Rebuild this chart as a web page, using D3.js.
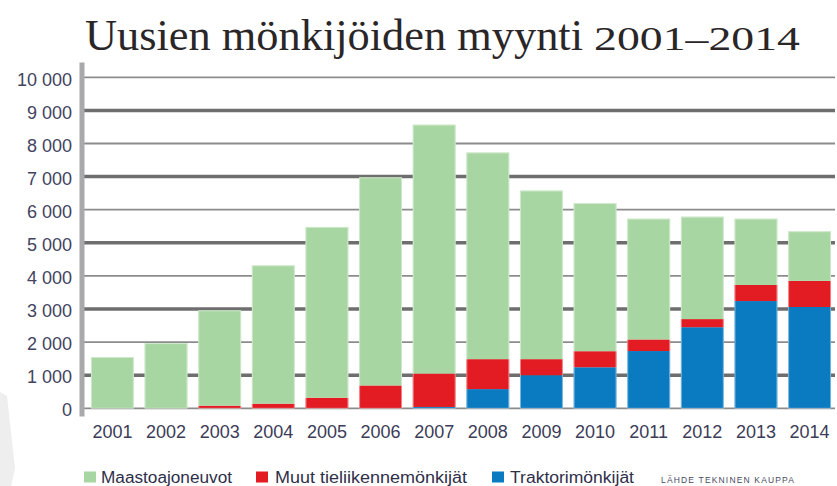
<!DOCTYPE html>
<html>
<head>
<meta charset="utf-8">
<script src="https://cdn.jsdelivr.net/npm/d3@7"></script>
<style>
  html, body { margin: 0; padding: 0; background: #fff; }
  svg { display: block; }
</style>
</head>
<body>
<svg id="chart" width="837" height="486"></svg>
<script>
const years = ["2001","2002","2003","2004","2005","2006","2007","2008","2009","2010","2011","2012","2013","2014"];
const traktori = [0,0,0,0,0,0,40,580,1000,1240,1730,2450,3240,3060];
const muut     = [0,0,80,140,320,690,1010,905,485,485,350,245,485,790];
const maasto   = [1550,1970,2880,4180,5160,6290,7520,6245,5095,4475,3650,3095,2005,1500];
const seriesNames = ["Traktorimönkijät","Muut tieliikennemönkijät","Maastoajoneuvot"];
const yTicks = [0,1000,2000,3000,4000,5000,6000,7000,8000,9000,10000];
const titleText = "Uusien mönkijöiden myynti";
const titleYears = "2001–2014";
const source = "LÄHDE TEKNINEN KAUPPA";

const colors = {"Maastoajoneuvot":"#a8d6a2","Muut tieliikennemönkijät":"#e31b23","Traktorimönkijät":"#0a7bc1"};

const svg = d3.select("#chart");

// page artifact on left
svg.append("path").attr("d","M0,392 L7,396 L15,468 L11,486 L0,486 Z").attr("fill","#eeeeee");

const rows = years.map((y,i)=>({year:y,"Traktorimönkijät":traktori[i],"Muut tieliikennemönkijät":muut[i],"Maastoajoneuvot":maasto[i]}));
const stack = d3.stack().keys(seriesNames)(rows);

const x = d3.scaleBand().domain(years).range([85.6,836.4]).paddingInner(0.2).paddingOuter(0.1);
const y = d3.scaleLinear().domain([0,10000]).range([408.3,77.3]);

// title
svg.append("text").attr("x",85).attr("y",50)
  .attr("font-family","'Liberation Serif','DejaVu Serif',serif")
  .attr("font-size",45).attr("fill","#2a2628")
  .attr("textLength",498).attr("lengthAdjust","spacingAndGlyphs")
  .text(titleText);
svg.append("text").attr("transform","translate(594,50) scale(1,0.74)")
  .attr("font-family","'Liberation Serif','DejaVu Serif',serif")
  .attr("font-size",45).attr("fill","#2a2628")
  .attr("textLength",206).attr("lengthAdjust","spacingAndGlyphs")
  .text(titleYears);

// gridlines
svg.append("g").selectAll("line").data(yTicks).join("line")
  .attr("x1",84).attr("x2",835)
  .attr("y1",d=>y(d)).attr("y2",d=>y(d))
  .attr("stroke",d=>(d/1000)%2===1?"#6e6e6e":"#8c8c8c")
  .attr("stroke-width",d=>(d/1000)%2===1?3.5:1.8);

// y axis bar
svg.append("rect").attr("x",79.5).attr("y",62.5).attr("width",5).attr("height",354).attr("fill","#a9a9ab");

// y labels
const fmt = d3.formatLocale({decimal:",",thousands:" ",grouping:[3],currency:["","€"]}).format(",");
svg.append("g").selectAll("text").data(yTicks).join("text")
  .attr("x",72).attr("y",d=>y(d)+ (1 - d/10000)*(-1) + 2)
  .attr("dy","0.35em").attr("text-anchor","end")
  .attr("font-family","'Liberation Sans',Arial,sans-serif").attr("font-size",18)
  .attr("fill","#43435f")
  .text(d=>fmt(d));

// bars
svg.append("g").selectAll("g").data(stack).join("g")
  .attr("fill",d=>colors[d.key])
  .selectAll("rect").data(d=>d).join("rect")
  .attr("x",d=>x(d.data.year))
  .attr("width",x.bandwidth())
  .attr("y",d=>y(d[1]))
  .attr("height",d=>Math.max(0,y(d[0])-y(d[1])));

// thin light outline on the total bars
svg.append("g").selectAll("rect").data(rows).join("rect")
  .attr("x",d=>x(d.year)+0.5).attr("width",x.bandwidth()-1)
  .attr("y",d=>y(d["Traktorimönkijät"]+d["Muut tieliikennemönkijät"]+d["Maastoajoneuvot"])+0.5)
  .attr("height",d=>y(0)-y(d["Traktorimönkijät"]+d["Muut tieliikennemönkijät"]+d["Maastoajoneuvot"])-0.5)
  .attr("fill","none").attr("stroke","rgba(255,255,255,0.45)").attr("stroke-width",1);

// x axis
const xAxis = svg.append("g").attr("transform","translate(0,420)")
  .call(d3.axisBottom(x).tickSize(0).tickPadding(0));
xAxis.select(".domain").remove();
xAxis.selectAll("text").attr("dy","0").attr("y",17.5)
  .attr("font-family","'Liberation Sans',Arial,sans-serif").attr("font-size",18)
  .attr("fill","#3c3c58");

// legend
const legendItems = [
  {name:"Maastoajoneuvot", sx:84, tx:101, tw:131},
  {name:"Muut tieliikennemönkijät", sx:256, tx:275, tw:192},
  {name:"Traktorimönkijät", sx:492, tx:510, tw:124}
];
const lg = svg.append("g");
legendItems.forEach(it=>{
  lg.append("rect").attr("x",it.sx).attr("y",471.5).attr("width",12).attr("height",11).attr("fill",colors[it.name]);
  lg.append("text").attr("x",it.tx).attr("y",482.5)
    .attr("font-family","'Liberation Sans',Arial,sans-serif").attr("font-size",16)
    .attr("fill","#2f2f4a")
    .attr("textLength",it.tw).attr("lengthAdjust","spacingAndGlyphs")
    .text(it.name);
});
lg.append("text").attr("x",661).attr("y",482.5)
  .attr("font-family","'Liberation Sans',Arial,sans-serif").attr("font-size",8.5)
  .attr("fill","#4a4a62")
  .attr("textLength",133).attr("lengthAdjust","spacing")
  .text(source);
</script>
</body>
</html>
